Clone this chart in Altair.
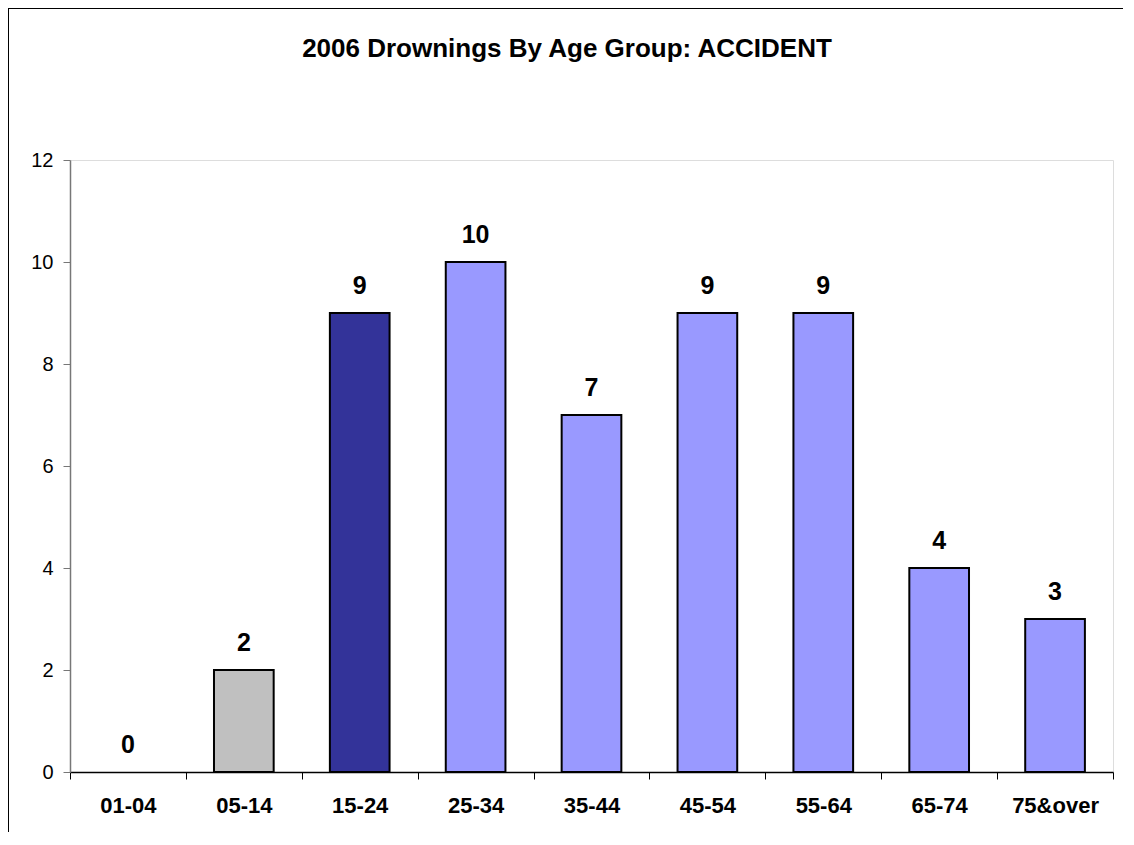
import altair as alt
import pandas as pd

categories = ["01-04", "05-14", "15-24", "25-34", "35-44", "45-54", "55-64", "65-74", "75&over"]
values = [0, 2, 9, 10, 7, 9, 9, 4, 3]
colors = ["#9999FF", "#C0C0C0", "#333399", "#9999FF", "#9999FF", "#9999FF", "#9999FF", "#9999FF", "#9999FF"]
y_ticks = [0, 2, 4, 6, 8, 10, 12]
title_text = "2006 Drownings By Age Group: ACCIDENT"

df = pd.DataFrame({"cat": categories, "val": values, "col": colors})

W, H = 1043, 612
FONT = "Liberation Sans"

x = alt.X("cat:N", sort=categories, title=None,
          scale=alt.Scale(paddingInner=0, paddingOuter=0),
          axis=alt.Axis(labelAngle=0, labelFontWeight="bold", labelFontSize=22, labelFont=FONT,
                        labelColor="black", tickBand="extent", tickSize=7, tickColor="black",
                        domainColor="black", labelPadding=16, tickWidth=1, domainWidth=1.5))
y = alt.Y("val:Q", title=None,
          scale=alt.Scale(domain=[0, 12], nice=False),
          axis=alt.Axis(values=y_ticks, grid=False, labelFontSize=20, labelFont=FONT, labelColor="black",
                        tickSize=7, tickColor="#777777", domainColor="#777777", labelPadding=10,
                        domainWidth=1.5))

frame = alt.Chart(df).mark_rect(fill=None, stroke="black", strokeWidth=2).encode(
    x=alt.value(-62), x2=alt.value(W + 200), y=alt.value(-152), y2=alt.value(H + 200)
)

title = alt.Chart(pd.DataFrame({"t": [title_text]})).mark_text(
    fontSize=26, fontWeight="bold", font=FONT, color="black", baseline="alphabetic", align="center"
).encode(x=alt.value(497), y=alt.value(-103), text="t:N")

bars = alt.Chart(df).transform_filter("datum.val > 0").mark_bar(
    width=alt.RelativeBandSize(0.515), stroke="black", strokeWidth=2).encode(
    x=x, y=y, fill=alt.Fill("col:N", scale=None)
)

labels = alt.Chart(df).mark_text(dy=-19, baseline="alphabetic", fontSize=25, fontWeight="bold",
                                 font=FONT, color="black").encode(
    x=alt.X("cat:N", sort=categories), y="val:Q", text="val:Q"
)

chart = alt.layer(frame, title, bars, labels).properties(
    width=W, height=H,
    autosize=alt.AutoSizeParams(type="none"),
    padding={"left": 62, "top": 152, "right": 10, "bottom": 60},
).configure_view(stroke=None).configure(background="white")

chart.save("out.html", embed_options={"renderer": "svg", "actions": False})
